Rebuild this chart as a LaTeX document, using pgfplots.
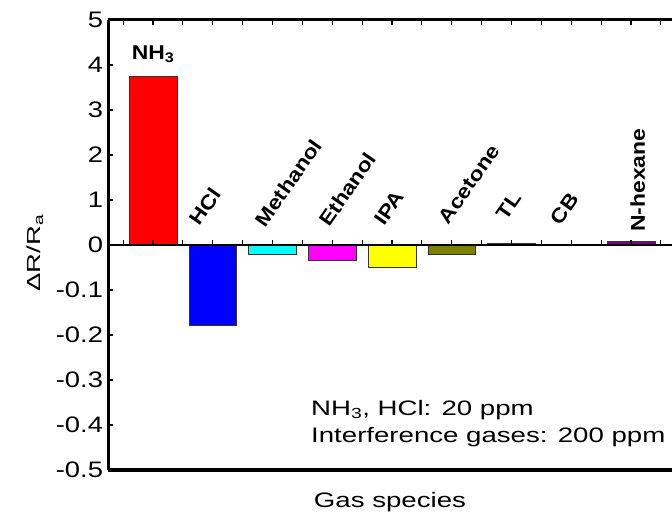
\documentclass[border=0pt]{standalone}
\usepackage{fontspec}
\setmainfont{Liberation Sans}[FakeStretch=1.32]
\newfontfamily\tickfont{Liberation Sans}[FakeStretch=1.22]
\newfontfamily\ylabfont{Liberation Sans}[FakeStretch=1.45]
\newfontfamily\lblfont{Liberation Sans}[FakeStretch=1.15]
\usepackage{pgfplots}
\pgfplotsset{compat=1.18}

\definecolor{nhcol}{RGB}{255,0,0}
\definecolor{hclcol}{RGB}{0,0,255}
\definecolor{methcol}{RGB}{0,255,255}
\definecolor{ethcol}{RGB}{255,0,255}
\definecolor{ipacol}{RGB}{255,255,0}
\definecolor{acetonecol}{RGB}{128,128,0}
\definecolor{tlcol}{RGB}{80,80,0}
\definecolor{cbcol}{RGB}{0,0,0}
\definecolor{hexcol}{RGB}{128,0,128}

\begin{document}
\begin{tikzpicture}
\begin{axis}[
  at={(0,0)}, anchor=south west,
  scale only axis,
  width=563.8bp, height=450bp,
  xmin=-0.75, xmax=8.686,
  ymin=-5, ymax=5,
  axis y line*=left,
  axis x line*=bottom,
  axis line style={line width=3bp},
  xtick=\empty,
  ytick={-5,-4,-3,-2,-1,0,1,2,3,4,5},
  yticklabels={-0.5,-0.4,-0.3,-0.2,-0.1,0,1,2,3,4,5},
  tick align=inside,
  major tick length=5bp,
  ytick style={line width=1.5bp, black},
  yticklabel style={font=\tickfont\fontsize{22.5}{22.5}\selectfont, inner sep=0pt, xshift=-5bp},
  ybar, bar shift=0pt, bar width=0.8,
  % negative responses are drawn on a 10x expanded scale below zero
  y filter/.expression={y<0 ? 10*y : y},
  every axis plot/.append style={draw=black!80, line width=0.7bp},
  clip=false,
]
\addplot[fill=nhcol]      coordinates {(0,3.75)};
\addplot[fill=hclcol]     coordinates {(1,-0.178)};
\addplot[fill=methcol]    coordinates {(2,-0.02)};
\addplot[fill=ethcol]     coordinates {(3,-0.034)};
\addplot[fill=ipacol]     coordinates {(4,-0.05)};
\addplot[fill=acetonecol] coordinates {(5,-0.02)};
\addplot[fill=tlcol]      coordinates {(6,0.04)};
\addplot[fill=cbcol]      coordinates {(7,0.01)};
\addplot[fill=hexcol]     coordinates {(8,0.07)};

% top frame line, zero line and category ticks
\draw[line width=3bp] (axis cs:-0.75,5) -- (axis cs:8.686,5);
\draw[line width=2.5bp] (axis cs:-0.75,0) -- (axis cs:8.686,0);
\pgfplotsinvokeforeach{-0.5,0,0.5,1,1.5,2,2.5,3,3.5,4,4.5,5,5.5,6,6.5,7,7.5,8,8.5}{
  \draw[line width=1.2bp] (axis cs:#1,0) -- (axis cs:#1,0.11);
  \draw[line width=1.2bp] (axis cs:#1,5) -- (axis cs:#1,4.89);
}

% bar labels
\node[anchor=base, font=\lblfont\bfseries\fontsize{20}{20}\selectfont] at (axis cs:0,4.13) {NH\textsubscript{3}};
\begin{scope}[every node/.style={anchor=base west, rotate=55, inner sep=0pt, font=\lblfont\bfseries\fontsize{20}{20}\selectfont}]
\node at (axis cs:0.78,0.40) {HCl};
\node at (axis cs:1.88,0.37) {Methanol};
\node at (axis cs:2.95,0.38) {Ethanol};
\node at (axis cs:3.87,0.40) {IPA};
\node at (axis cs:4.95,0.44) {Acetone};
\node at (axis cs:5.92,0.52) {TL};
\node at (axis cs:6.82,0.41) {CB};
\end{scope}
\node[anchor=base west, rotate=90, inner sep=0pt, font=\lblfont\bfseries\fontsize{20}{20}\selectfont] at (axis cs:8.23,0.29) {N-hexane};

% test conditions
\node[anchor=base west, inner sep=0pt, font=\fontsize{21}{21}\selectfont] at (axis cs:2.644,-3.778) {NH\textsubscript{3}, HCl: 20 ppm};
\node[anchor=base west, inner sep=0pt, font=\fontsize{21}{21}\selectfont] at (axis cs:2.644,-4.378) {Interference gases: 200 ppm};

% axis titles
\node[anchor=base, inner sep=0pt, font=\fontsize{21}{21}\selectfont] at (axis cs:3.966,-5.844) {Gas species};
\node[rotate=90, anchor=center, inner sep=0pt, font=\ylabfont\fontsize{19}{19}\selectfont] at (axis cs:-1.975,-0.18) {ΔR/R\textsubscript{a}};
\end{axis}
\pgfresetboundingbox
\useasboundingbox (-108.2bp,-52bp) rectangle (563.8bp,470bp);
\end{tikzpicture}
\end{document}
